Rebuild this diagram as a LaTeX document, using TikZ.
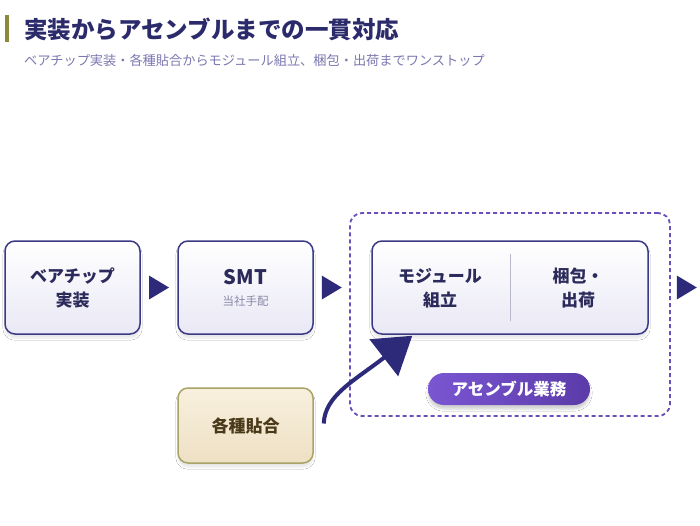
\documentclass[tikz,border=0pt]{standalone}
\usepackage{fontspec}
\setmainfont{Noto Sans CJK JP}
\usetikzlibrary{arrows.meta,shadows.blur,calc}
\definecolor{navy}{HTML}{2E2A7A}
\definecolor{titlec}{HTML}{2B2A6B}
\definecolor{subc}{HTML}{7B78B0}
\definecolor{boxedge}{HTML}{3C3A86}
\definecolor{boxlow}{HTML}{E9E8F5}
\definecolor{txt}{HTML}{2B2A5B}
\definecolor{notec}{HTML}{8A88A8}
\definecolor{dashc}{HTML}{6A50B8}
\definecolor{pillL}{HTML}{7A56D2}
\definecolor{pillR}{HTML}{5B3BA8}
\definecolor{begT}{HTML}{F8F0DE}
\definecolor{begB}{HTML}{EEE0C4}
\definecolor{begE}{HTML}{A8A468}
\definecolor{begT2}{HTML}{4A3A1A}
\definecolor{olive}{HTML}{8A8A3A}
\tikzset{
  procbox/.style={draw=boxedge, line width=1.5pt, rounded corners=10pt,
    top color=white, bottom color=boxlow, inner sep=0pt, align=center,
    text=txt, font=\bfseries\fontsize{17}{24}\selectfont,
    blur shadow={shadow xshift=0pt, shadow yshift=-4pt, shadow blur steps=6, shadow opacity=10}},
  pastebox/.style={draw=begE, line width=1.5pt, rounded corners=10pt,
    top color=begT, bottom color=begB, inner sep=0pt, align=center,
    text=begT2, font=\bfseries\fontsize{17}{24}\selectfont,
    blur shadow={shadow xshift=0pt, shadow yshift=-4pt, shadow blur steps=6, shadow opacity=10}},
  groupbox/.style={draw=dashc, line width=1.8pt, dash pattern=on 4pt off 3pt,
    rounded corners=12pt, inner sep=0pt},
  pill/.style={rounded corners=16pt, left color=pillL, right color=pillR,
    text=white, font=\bfseries\fontsize{16.5}{18}\selectfont, inner sep=0pt,
    blur shadow={shadow xshift=0pt, shadow yshift=-4pt, shadow blur steps=6, shadow opacity=18}},
  flowtri/.style={fill=navy},
}
\begin{document}
\begin{tikzpicture}[x=1pt,y=-1pt]
\useasboundingbox[fill=white] (0,0) rectangle (700,525);
% title
\fill[olive] (5,15) rectangle (9,42);
\node[anchor=west, inner sep=0pt, text=titlec, font=\bfseries\fontsize{23.5}{27}\selectfont] (title) at (24,29) {実装からアセンブルまでの一貫対応};
\node[anchor=west, inner sep=0pt, text=subc, font=\fontsize{13.2}{15}\selectfont] (sub) at (24,60) {ベアチップ実装・各種貼合からモジュール組立、梱包・出荷までワンストップ};
% group
\node[groupbox, minimum width=320pt, minimum height=203pt] (grp) at (510,314.5) {};
% boxes
\node[procbox, minimum width=135pt, minimum height=93pt] (b1) at (72.5,287.5) {ベアチップ\\実装};
\node[procbox, minimum width=135pt, minimum height=93pt] (b2) at (245.5,287.5) {};
\node[text=txt, font=\bfseries\fontsize{20}{22}\selectfont, inner sep=0pt] (smt) at (245.5,277) {SMT};
\node[text=notec, font=\fontsize{11.5}{13}\selectfont, inner sep=0pt] (smtn) at (245.5,301) {当社手配};
\node[procbox, minimum width=276pt, minimum height=93pt] (inner) at (510,287.5) {};
\draw[color=notec!60, line width=1pt] ($(inner.north)+(0,14)$) -- ($(inner.south)+(0,-14)$);
\node[align=center, text=txt, font=\bfseries\fontsize{17}{24}\selectfont, inner sep=0pt] (mod) at (440,288) {モジュール\\組立};
\node[align=center, text=txt, font=\bfseries\fontsize{17}{24}\selectfont, inner sep=0pt] (pack) at (578,288) {梱包・\\出荷};
\node[pill, minimum width=162pt, minimum height=32pt] (asm) at (509,389) {アセンブル業務};
\node[pastebox, minimum width=135pt, minimum height=75pt] (gp) at (245.5,425.5) {各種貼合};
% triangles
\coordinate (t1) at ($(b1.east)!0.5!(b2.west)$);
\coordinate (t2) at ($(b2.east)+(18,0)$);
\coordinate (t3) at ($(inner.east)+(38,0)$);
\foreach \t in {t1,t2,t3}{
  \fill[flowtri] ($(\t)+(-10,-12)$) -- ($(\t)+(10,0)$) -- ($(\t)+(-10,12)$) -- cycle;
}
% curved arrow
\coordinate (cs) at ($(gp.east)+(10,-2)$);
\coordinate (ce) at ($(inner.south west)+(41,1)$);
\draw[navy, line width=4pt, -{Triangle[length=36pt,width=46pt]}]
  (cs) .. controls ($(cs)+(1,-28)$) and ($(ce)+(-58,45)$) .. (ce);
\end{tikzpicture}
\end{document}
